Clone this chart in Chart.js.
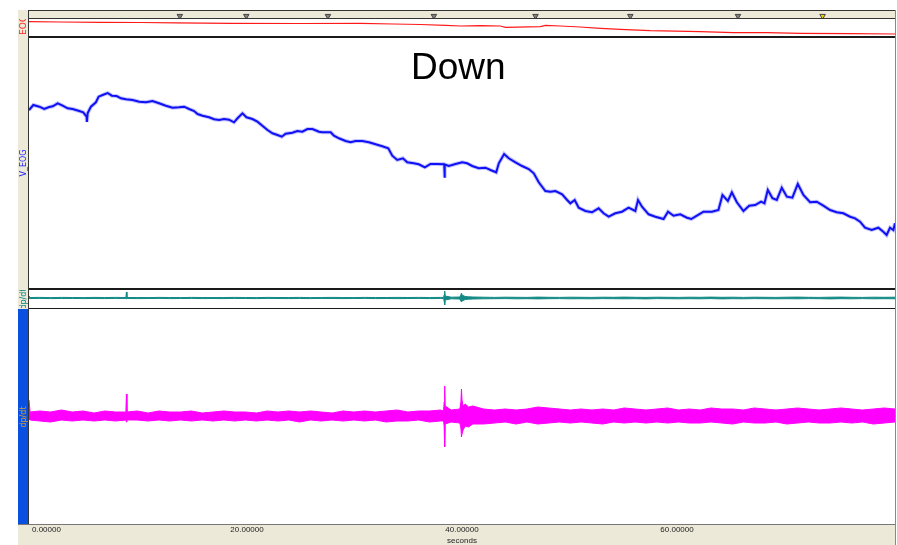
<!DOCTYPE html>
<html>
<head>
<meta charset="utf-8">
<script src="https://cdn.jsdelivr.net/npm/chart.js@4.4.1/dist/chart.umd.min.js"></script>
<style>
  html, body { margin: 0; padding: 0; background: #fff; }
  body { width: 897px; height: 545px; position: relative; overflow: hidden; font-family: "Liberation Sans", Arial, sans-serif; }
  .frame { position: absolute; left: 18px; top: 10px; width: 878px; height: 535px; background: #ece9d8; }
  .pane { position: absolute; left: 29px; width: 866px; background: #fff; overflow: hidden; }
  .rule { position: absolute; background: #1a1a1a; }
  .lbl { position: absolute; left: 18px; width: 10px; overflow: hidden; }
  .lbl span { position: absolute; left: 50%; top: 50%; transform: translate(-50%, -50%) rotate(-90deg);
              font: 8px "DejaVu Sans", sans-serif; white-space: nowrap; }
  .title { position: absolute; left: 411px; top: 48px; font: 37px "Liberation Sans", Arial, sans-serif; line-height: 1; color: #000; }
</style>
</head>
<body>
<div class="frame"></div>

<div class="pane" id="axisBox" style="top:470px; height:75px; background:transparent;"><canvas id="axisChart"></canvas></div>

<div class="pane" style="top:11px; height:7px; background:transparent;"><canvas id="markerChart"></canvas></div>
<div class="pane" style="top:19px; height:17px;"><canvas id="eogChart"></canvas></div>
<div class="pane" style="top:38px; height:250px;"><canvas id="vEogChart"></canvas></div>
<div class="pane" style="top:290px; height:18px;"><canvas id="tealChart"></canvas></div>
<div class="pane" style="top:309px; height:215px;"><canvas id="dpdtChart"></canvas></div>

<div class="rule" style="left:28px; top:10px; width:868px; height:1px; background:#333;"></div>
<div class="rule" style="left:28px; top:18px; width:868px; height:1px; background:#333;"></div>
<div class="rule" style="left:28px; top:36px; width:868px; height:2px;"></div>
<div class="rule" style="left:28px; top:288px; width:868px; height:2px;"></div>
<div class="rule" style="left:28px; top:308px; width:868px; height:1px;"></div>
<div class="rule" style="left:18px; top:524px; width:878px; height:1px; background:#777;"></div>
<div class="rule" style="left:28px; top:10px; width:1px; height:514px; background:#333;"></div>
<div class="rule" style="left:895px; top:10px; width:1px; height:535px; background:#888;"></div>

<div class="lbl" style="top:19px; height:17px;"><span style="color:#ff2020; font-size:9px; top:calc(50% - 3px);">EOG</span></div>
<div class="lbl" style="top:38px; height:250px;"><span style="color:#2020ff;">V_EOG</span></div>
<div class="lbl" style="top:290px; height:18px;"><span style="color:#008080;">dp/dt</span></div>
<div class="lbl" style="top:309px; height:215px; background:#0a50e0;"><span style="color:#d0a040;">dp/dt</span></div>

<div class="title">Down</div>

<script>
// time base (seconds) shared by the x axes
const xMin = 0;
const xMax = 80;
const tickValues = [0, 20, 40, 60];

// event markers in the top strip
const markerTimes = [13.63, 19.84, 27.47, 37.37, 46.87, 55.73, 65.79, 73.70];

// EOG (top thin channel)
const eogTimes = [0, 2.95, 6.64, 10.33, 13.56, 18.64, 25.10, 30.63, 33.68, 36.17, 38.48, 39.86, 41.71, 43.55,
  44.01, 47.24, 47.70, 49.09, 50.93, 52.78, 54.62, 57.39, 62.01, 65.05, 68.19, 71.23, 75.85, 80];
const eogValues = [14.3, 14, 13.7, 13.5, 13.2, 12.7, 12.5, 12.7, 12, 11.5, 10.7, 10, 10.3, 10,
  8.7, 9.3, 10.7, 10, 9, 7.7, 6.7, 5.3, 4.3, 3.3, 3.3, 2.7, 2.3, 2];

// V_EOG (main channel)
const vEogTimes = [0, 0.40, 0.95, 1.41, 1.87, 2.19, 2.65, 3.11, 3.57, 4.03,
  4.64, 5.01, 5.32, 5.35, 5.42, 5.72, 6.18, 6.43, 6.80, 7.26,
  7.66, 8.09, 8.49, 8.95, 9.57, 10.18, 10.80, 11.41, 12.02, 12.64,
  13.26, 13.87, 14.33, 14.79, 15.25, 15.57, 16.03, 16.64, 17.10, 17.56,
  18.02, 18.48, 18.94, 19.26, 19.72, 20.09, 20.64, 21.10, 21.56, 22.03,
  22.49, 22.95, 23.35, 23.71, 24.33, 24.79, 25.25, 25.72, 26.18, 26.79,
  27.10, 27.87, 28.17, 28.63, 29.25, 29.71, 30.17, 30.79, 31.40, 32.02,
  32.64, 33.19, 33.56, 34.02, 34.54, 34.94, 35.55, 36.01, 36.57, 37.09,
  37.71, 38.32, 38.36, 38.39, 38.42, 38.78, 39.40, 40.02, 40.48, 40.94,
  41.55, 42.17, 42.63, 43.16, 43.40, 43.89, 44.32, 44.94, 45.55, 46.16,
  46.63, 47.09, 47.70, 48.17, 48.63, 49.25, 49.71, 50.01, 50.41, 50.78,
  51.40, 52.01, 52.62, 53.08, 53.55, 54.16, 54.78, 55.39, 56.01, 56.26,
  56.63, 57.24, 57.86, 58.62, 59.03, 59.54, 60.16, 60.78, 61.18, 61.70,
  62.31, 63.09, 63.69, 64.06, 64.56, 64.93, 65.39, 66.00, 66.53, 67.08,
  67.63, 67.94, 68.25, 68.68, 69.08, 69.54, 70.01, 70.52, 71.02, 71.54,
  72.16, 72.77, 73.38, 74.00, 74.62, 75.23, 75.85, 76.31, 76.77, 77.23,
  77.85, 78.46, 78.92, 79.23, 79.54, 79.85, 80.0];
const vEogValues = [178, 183, 181.3, 179, 181, 181.7, 184.7, 182.3, 179.7, 179,
  177, 175.7, 171.3, 166, 175, 181.3, 185.7, 191.3, 193, 195,
  192.3, 192, 189.7, 188.7, 188, 186.3, 185.7, 187, 184.7, 182.3,
  180.3, 180.7, 181.3, 179, 177, 174, 172.3, 170.7, 168.7, 168,
  169, 168.3, 165.7, 169.7, 174.7, 170.7, 169, 166.3, 162.3, 158,
  154.7, 153, 151.3, 154.3, 155.3, 157, 156.3, 159, 159, 156.3,
  155.7, 155.7, 152.3, 149.7, 147, 145.7, 147, 147, 145.7, 143.7,
  141.7, 139.7, 132.3, 128, 129.7, 125.7, 124.7, 123.7, 120.7, 124,
  124, 123.7, 123.5, 110.3, 123.5, 122, 124, 125.7, 124.7, 122,
  119.7, 120.3, 118, 115.7, 124.7, 134, 129.7, 125.7, 122, 119,
  114.7, 105.7, 97, 96.3, 97, 93.7, 88, 84.7, 88, 80.3,
  77, 75.7, 79.7, 74.7, 71.3, 74.7, 76.3, 80.3, 77, 88,
  81.3, 73.7, 71.3, 69, 76.3, 72.3, 73.7, 70.3, 69, 72.3,
  76.3, 76.3, 78, 93, 87, 95.7, 85.7, 77, 82.3, 83,
  86.3, 84.7, 98, 89.7, 88, 100.3, 91.3, 90.3, 104, 93,
  85.7, 86.3, 82.3, 78, 75.7, 74.7, 71.3, 69.7, 66.3, 60.3,
  58, 60.3, 56.3, 53, 60.3, 58, 64.7];

// dp/dt channels: upper and lower envelope of the noisy trace
const dpdtTimes = [0, 0.1, 1, 2, 3, 4, 5, 6, 7, 8,
  8.95, 9.0, 9.05,
  10, 11, 12, 13, 14, 15, 16, 17, 18, 19,
  20, 21, 22, 23, 24, 25, 26, 27, 28, 29,
  30, 31, 32, 33, 34, 35, 36, 37, 38,
  38.3, 38.35, 38.4, 38.45,
  39,
  39.8, 39.9, 39.95, 40.0, 40.1, 40.3, 40.6,
  41, 42, 43, 44, 45, 46, 47, 48, 49, 50,
  51, 52, 53, 54, 55, 56, 57, 58, 59, 60,
  61, 62, 63, 64, 65, 66, 67, 68, 69, 70,
  71, 72, 73, 74, 75, 76, 77, 78, 79, 80];
const tealHigh = [2, 0.5, 0.6, 0.4, 0.6, 0.5, 0.4, 0.6, 0.5, 0.6,
  0.5, 6, 0.5,
  0.5, 0.4, 0.6, 0.5, 0.4, 0.6, 0.5, 0.4, 0.5, 0.6,
  0.5, 0.4, 0.6, 0.5, 0.5, 0.6, 0.4, 0.5, 0.6, 0.5,
  0.4, 0.6, 0.5, 0.5, 0.6, 0.5, 0.6, 0.5, 0.6,
  0.6, 3, 7, 2,
  0.8,
  1, 3, 5, 3, 2.5, 1.5, 1.2,
  1, 0.8, 0.6, 0.8, 0.7, 0.6, 0.9, 0.7, 0.6, 0.8,
  0.7, 0.6, 0.8, 0.7, 0.9, 0.7, 0.6, 0.8, 0.7, 0.6,
  0.8, 0.7, 0.9, 0.7, 0.8, 0.6, 0.8, 0.7, 0.6, 0.8,
  0.9, 0.7, 0.6, 0.8, 0.9, 0.7, 0.6, 0.8, 0.7, 0.8];
const tealLow = [-0.5, -0.5, -0.4, -0.6, -0.5, -0.4, -0.6, -0.5, -0.6, -0.4,
  -0.5, -0.8, -0.5,
  -0.6, -0.5, -0.4, -0.6, -0.5, -0.4, -0.6, -0.5, -0.6, -0.4,
  -0.5, -0.6, -0.4, -0.5, -0.6, -0.5, -0.6, -0.4, -0.5, -0.6,
  -0.5, -0.4, -0.6, -0.5, -0.6, -0.5, -0.4, -0.6, -0.5,
  -0.6, -3, -7, -2,
  -0.8,
  -1, -3, -4, -3, -2.5, -1.5, -1.2,
  -1, -0.8, -0.7, -0.6, -0.8, -0.7, -0.9, -0.7, -0.6, -0.8,
  -0.7, -0.8, -0.6, -0.7, -0.8, -0.7, -0.9, -0.6, -0.7, -0.8,
  -0.7, -0.8, -0.6, -0.9, -0.7, -0.8, -0.6, -0.7, -0.8, -0.7,
  -0.8, -0.6, -0.7, -0.9, -0.7, -0.8, -0.6, -0.8, -0.7, -0.8];
const dpdtHigh = [16, 4, 5, 4, 6, 4, 5, 3, 5, 4,
  4, 22, 4,
  5, 3, 5, 4, 4, 5, 3, 4, 5, 4,
  4, 3, 5, 4, 5, 4, 5, 4, 3, 5,
  4, 5, 4, 5, 6, 4, 5, 5, 6,
  5, 14, 30, 10,
  6,
  7, 14, 27, 16, 10, 12, 9,
  10, 7, 6, 7, 6, 7, 9, 8, 7, 6,
  7, 6, 7, 6, 8, 7, 6, 7, 8, 6,
  7, 6, 8, 7, 7, 6, 8, 7, 6, 7,
  8, 7, 6, 7, 8, 7, 6, 7, 8, 7];
const dpdtLow = [-3, -4, -5, -6, -4, -5, -4, -5, -4, -5,
  -4, -6, -4,
  -4, -5, -4, -5, -4, -5, -4, -5, -4, -5,
  -4, -5, -4, -5, -4, -6, -4, -5, -4, -5,
  -4, -5, -4, -6, -5, -5, -4, -6, -5,
  -5, -10, -31, -8,
  -6,
  -7, -12, -21, -18, -14, -10, -11,
  -8, -8, -7, -6, -8, -6, -8, -7, -6, -7,
  -6, -7, -8, -6, -7, -6, -7, -6, -7, -6,
  -7, -7, -6, -7, -8, -6, -7, -7, -6, -8,
  -7, -6, -7, -7, -6, -7, -6, -8, -7, -6];

const pts = (ts, vs) => ts.map((t, i) => ({ x: t, y: vs[i] }));

function baseOptions(yMin, yMax) {
   return {
      responsive: true,
      maintainAspectRatio: false,
      animation: false,
      events: [],
      layout: { padding: 0 },
      plugins: { legend: { display: false }, tooltip: { enabled: false } },
      elements: { point: { radius: 0 }, line: { tension: 0 } },
      scales: {
         x: { type: 'linear', min: xMin, max: xMax, display: false },
         y: { min: yMin, max: yMax, display: false },
      },
   };
}

function traceChart(id, datasets, yMin, yMax) {
   return new Chart(document.getElementById(id), {
      type: 'line',
      data: { datasets: datasets },
      options: baseOptions(yMin, yMax),
   });
}

// top strip with the event markers
new Chart(document.getElementById('markerChart'), {
   type: 'scatter',
   data: {
      datasets: [{
         data: markerTimes.map((t) => ({ x: t, y: 0 })),
         pointStyle: 'triangle',
         rotation: 180,
         radius: 3.2,
         backgroundColor: markerTimes.map((t, i) => (i === markerTimes.length - 1 ? '#f2d000' : '#808080')),
         borderColor: '#444',
         borderWidth: 1,
         clip: false,
      }],
   },
   options: baseOptions(-1, 1),
});

traceChart('eogChart', [{
   data: pts(eogTimes, eogValues),
   borderColor: '#ff1a1a',
   borderWidth: 1.2,
}], 0, 17);

// main trace: dark core over a faint wider halo (the sample noise)
traceChart('vEogChart', [
   { data: pts(vEogTimes, vEogValues), borderColor: '#1010f5', borderWidth: 2 },
   { data: pts(vEogTimes, vEogValues), borderColor: 'rgba(90, 90, 255, 0.35)', borderWidth: 4 },
], 0, 250);

traceChart('tealChart', [
   { data: pts(dpdtTimes, tealHigh), borderColor: '#138a85', borderWidth: 1, fill: '+1', backgroundColor: '#138a85' },
   { data: pts(dpdtTimes, tealLow), borderColor: '#138a85', borderWidth: 1 },
], -10, 8);

traceChart('dpdtChart', [
   { data: pts(dpdtTimes, dpdtHigh), borderColor: '#ff00ff', borderWidth: 1, fill: '+1', backgroundColor: '#ff00ff' },
   { data: pts(dpdtTimes, dpdtLow), borderColor: '#ff00ff', borderWidth: 1 },
], -108, 107);

// time axis along the bottom
const axisOpts = baseOptions(0, 1);
axisOpts.scales.x = {
   type: 'linear',
   min: xMin,
   max: xMax,
   position: 'bottom',
   grid: { display: false },
   border: { display: false },
   afterBuildTicks: (axis) => { axis.ticks = tickValues.concat([xMax]).map((v) => ({ value: v })); },
   ticks: {
      align: 'inner',
      maxRotation: 0,
      autoSkip: false,
      padding: 3,
      color: '#222',
      font: { family: 'Liberation Sans', size: 8, lineHeight: 1 },
      callback: (v) => (tickValues.includes(v) ? v.toFixed(5) : ''),
   },
   title: {
      display: true,
      text: 'seconds',
      color: '#222',
      padding: 0,
      font: { family: 'Liberation Sans', size: 8, lineHeight: 1 },
   },
};
new Chart(document.getElementById('axisChart'), {
   type: 'line',
   data: { datasets: [{ data: [] }] },
   options: axisOpts,
});
</script>
</body>
</html>
